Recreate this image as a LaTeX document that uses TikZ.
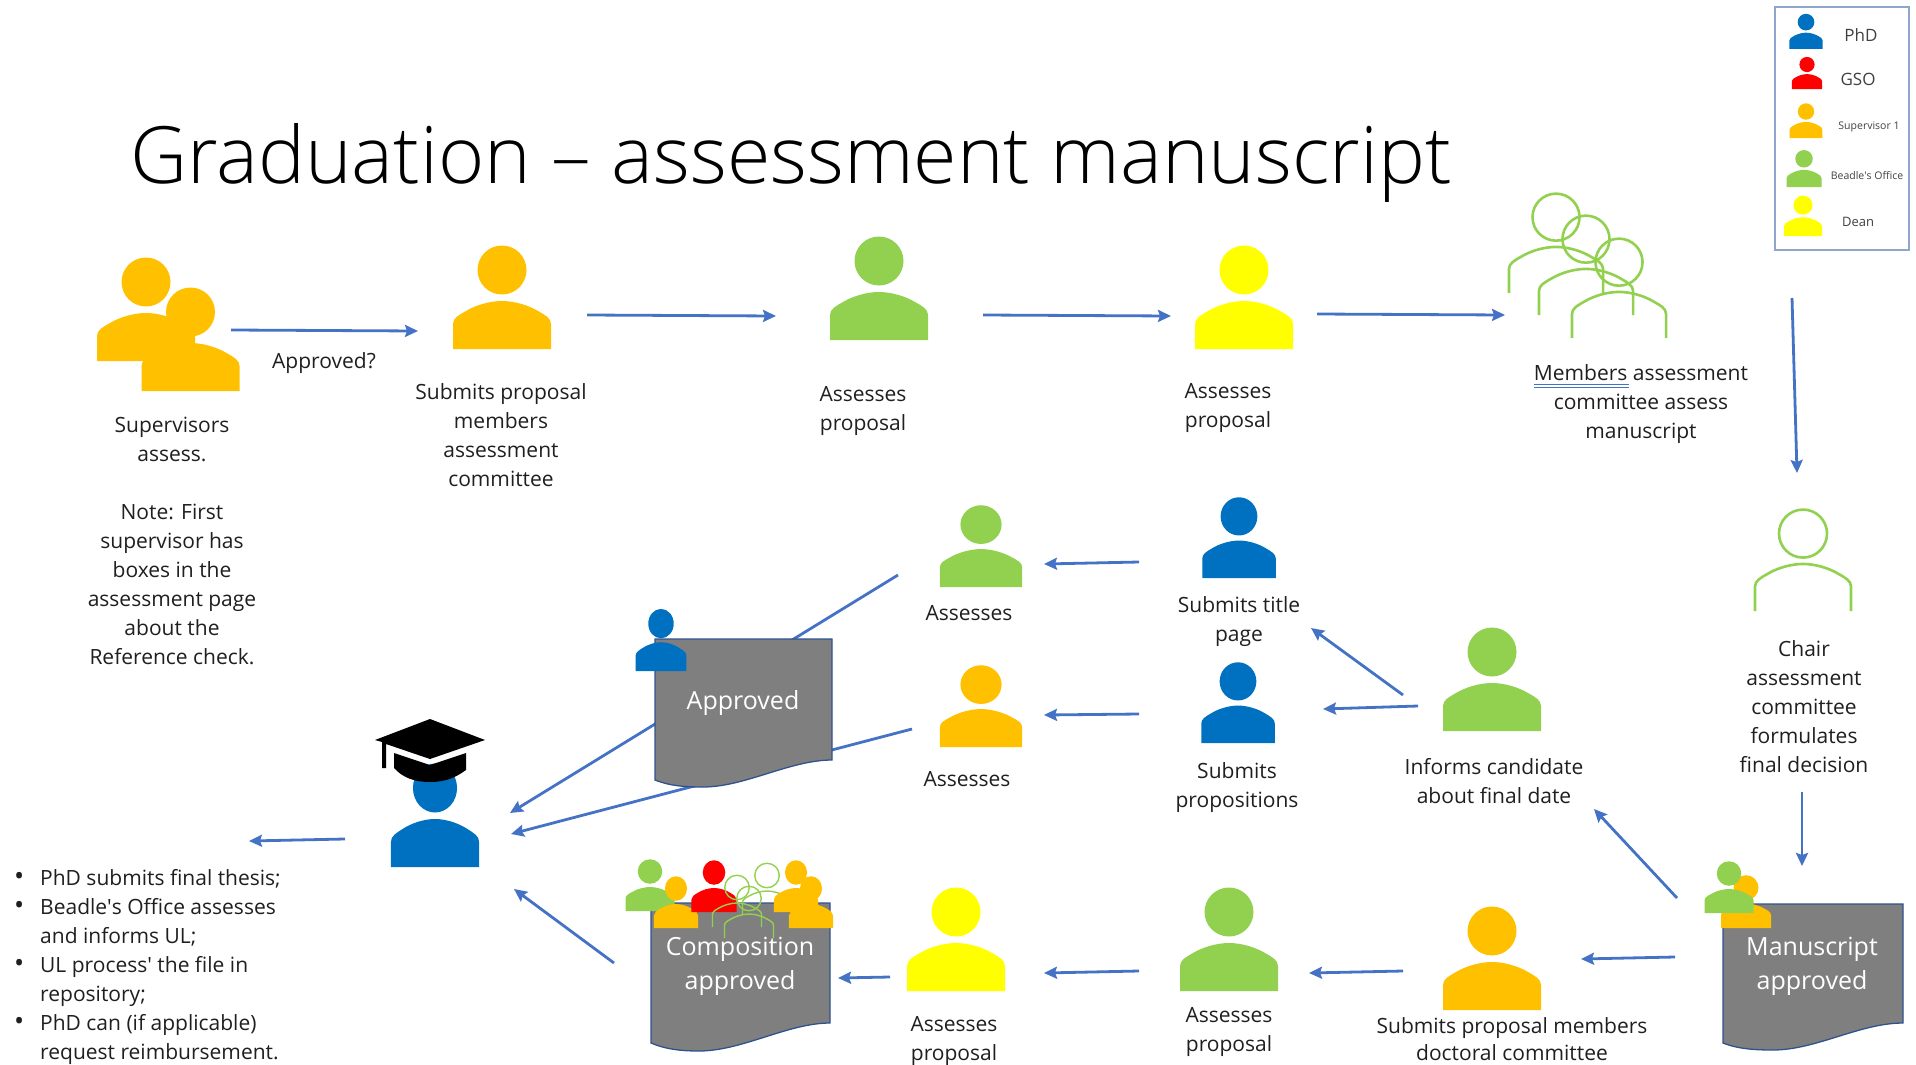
\documentclass[tikz,border=0pt]{standalone}
\usepackage{fontspec}
\setmainfont{Open Sans}
\newfontfamily\titlefont{Open Sans Light}
\usetikzlibrary{arrows.meta}
\definecolor{phdblue}{HTML}{0070C0}
\definecolor{gsored}{HTML}{FF0000}
\definecolor{supervisor}{HTML}{FFC000}
\definecolor{beadle}{HTML}{92D050}
\definecolor{dean}{HTML}{FFFF00}
\definecolor{arrowblue}{HTML}{4472C4}
\definecolor{docgray}{HTML}{7F7F7F}
\definecolor{docedge}{HTML}{2F528F}
\definecolor{legendedge}{HTML}{8FA5CC}
\newcommand{\listbullet}{\makebox[0pt][r]{{\fontsize{27}{29}\selectfont\textbullet}\hspace{16pt}}}
\begin{document}
\begin{tikzpicture}[
    x=1pt, y=-1pt,
    arrow/.style={-{Stealth[length=13pt, width=12pt, inset=2pt]}, line width=2.8pt, arrowblue},
    label/.style={align=center, font=\fontsize{21}{29}\selectfont, text=black!88, inner sep=0pt},
    doctext/.style={align=center, font=\fontsize{25}{34}\selectfont, text=white, inner sep=0pt},
    legendtext/.style={font=\fontsize{17}{18}\selectfont, text=black!75, inner sep=0pt},
    doc/.style={draw=docedge, fill=docgray, line width=1.3pt},
    pics/person/.style={code={
        \fill[#1] (0,-79) circle (24.5);
        \fill[#1] (-49,0) -- (-49,-25) .. controls (-49,-31) and (-43,-34) .. (-36,-38)
            .. controls (-26,-44) and (-12,-48) .. (0,-48)
            .. controls (12,-48) and (26,-44) .. (36,-38)
            .. controls (43,-34) and (49,-31) .. (49,-25) -- (49,0) -- cycle;
    }},
    pics/member/.style={code={
        \draw[beadle, line width=#1] (0,-79) circle (24.5);
        \draw[beadle, line width=#1] (-49,0) -- (-49,-25) .. controls (-49,-31) and (-43,-34) .. (-36,-38)
            .. controls (-26,-44) and (-12,-48) .. (0,-48)
            .. controls (12,-48) and (26,-44) .. (36,-38)
            .. controls (43,-34) and (49,-31) .. (49,-25) -- (49,0);
    }}
]
\useasboundingbox (0,0) rectangle (1916,1065);

% Title
\node[inner sep=0pt, font=\fontsize{79}{84}\selectfont\titlefont, text=black] (title) at (791,163) {Graduation – assessment manuscript};

% Legend
\node[draw=legendedge, line width=1.5pt, minimum width=134pt, minimum height=243pt, inner sep=0pt] (legend) at (1842,128.5) {};
\pic (legend-phd) [scale=.34] at (1806,49) {person=phdblue};
\pic (legend-gso) [scale=.31] at (1807,89) {person=gsored};
\pic (legend-sup) [scale=.335] at (1806,138) {person=supervisor};
\pic (legend-bea) [scale=.357] at (1804,187) {person=beadle};
\pic (legend-dea) [scale=.39] at (1803,236) {person=dean};
\node[legendtext] (legend-phd-text) at (1861,35) {PhD};
\node[legendtext] (legend-gso-text) at (1858,79) {GSO};
\node[legendtext, font=\fontsize{10.5}{12}\selectfont] (legend-sup-text) at (1869,127) {Supervisor 1};
\node[legendtext, font=\fontsize{10.5}{12}\selectfont] (legend-bea-text) at (1867,176) {Beadle\textquotesingle s Office};
\node[legendtext, font=\fontsize{13}{14}\selectfont] (legend-dea-text) at (1858,222) {Dean};

% Top row
\pic (sup1) at (146,361) {person=supervisor};
\pic (sup2) at (190.5,391) {person=supervisor};
\pic (sub-members) at (502,349) {person=supervisor};
\pic (bea-top) at (879,340) {person=beadle};
\pic (dean-top) at (1244,349) {person=dean};
\pic (mem1) [scale=.96] at (1556,293) {member=2.6pt};
\pic (mem2) [scale=.96] at (1586,315) {member=2.6pt};
\pic (mem3) [scale=.96] at (1619,338) {member=2.6pt};
\pic (chair) [scale=.98] at (1803,611) {member=2.6pt};

\node[label, anchor=north] (sup-text) at (172,417) {Supervisors\\assess.\\[29pt]Note: First\\supervisor has\\boxes in the\\assessment page\\about the\\Reference check.};
\node[label] (approved-q) at (324,363) {Approved?};
\node[label, anchor=north] (sub-text) at (501,383) {Submits proposal\\members\\assessment\\committee};
\node[label, anchor=north] (bea-top-text) at (863,386) {Assesses\\proposal};
\node[label, anchor=north] (dean-top-text) at (1228,383) {Assesses\\proposal};
\node[label, anchor=north] (mem-text) at (1641,364) {Members assessment\\committee assess\\manuscript};
\draw[arrowblue, line width=.9pt] (1534,384) -- (1629,384) (1534,387) -- (1629,387);
\node[label, anchor=north] (chair-text) at (1804,640) {Chair\\assessment\\committee\\formulates\\final decision};

% Middle rows
\pic (bea-mid) [xscale=.84, yscale=.79] at (981,587) {person=beadle};
\pic (phd-title) [xscale=.75, yscale=.78] at (1239,578) {person=phdblue};
\pic (sup-mid) [xscale=.84, yscale=.79] at (981,747) {person=supervisor};
\pic (phd-prop) [xscale=.75, yscale=.78] at (1238,743) {person=phdblue};
\pic (bea-date) at (1492,731) {person=beadle};
\node[label] (bea-mid-text) at (969,613) {Assesses};
\node[label] (sup-mid-text) at (967,779) {Assesses};
\node[label, anchor=north] (title-text) at (1239,596) {Submits title\\page};
\node[label, anchor=north] (prop-text) at (1237,762) {Submits\\propositions};
\node[label, anchor=north] (date-text) at (1494,758) {Informs candidate\\about final date};

% Bottom row
\pic (dean-low) at (956,991) {person=dean};
\pic (bea-low) at (1229,991) {person=beadle};
\pic (sup-low) at (1492,1010) {person=supervisor};
\node[label, anchor=north] (dean-low-text) at (954,1016) {Assesses\\proposal};
\node[label, anchor=north] (bea-low-text) at (1229,1007) {Assesses\\proposal};
\node[label, anchor=north, font=\fontsize{21}{27}\selectfont] (sup-low-text) at (1512,1017) {Submits proposal members\\doctoral committee};

% Arrow ends
\coordinate (sup-out) at (231,330);
\coordinate (sub-in) at (418,331);
\coordinate (sub-out) at (587,315);
\coordinate (bea-top-in) at (776,316);
\coordinate (bea-top-out) at (983,315);
\coordinate (dean-top-in) at (1171,316);
\coordinate (dean-top-out) at (1317,314);
\coordinate (mem-in) at (1505,315);
\coordinate (mem-out) at (1792,298);
\coordinate (chair-in) at (1797,473);
\coordinate (chair-out) at (1802,792);
\coordinate (man-in) at (1802,866);
\coordinate (man-out-a) at (1677,898);
\coordinate (date-in) at (1594,809);
\coordinate (man-out-b) at (1675,957);
\coordinate (sup-low-in) at (1581,959);
\coordinate (sup-low-out) at (1403,971);
\coordinate (bea-low-in) at (1309,973);
\coordinate (bea-low-out) at (1139,971);
\coordinate (dean-low-in) at (1044,973);
\coordinate (dean-low-out) at (890,977);
\coordinate (comp-in) at (838,978);
\coordinate (comp-out) at (614,963);
\coordinate (phd-in-c) at (514,889);
\coordinate (date-out-a) at (1403,695);
\coordinate (title-in) at (1311,628);
\coordinate (date-out-b) at (1418,706);
\coordinate (prop-in) at (1323,709);
\coordinate (title-out) at (1139,562);
\coordinate (bea-mid-in) at (1044,564);
\coordinate (prop-out) at (1139,714);
\coordinate (sup-mid-in) at (1044,715);
\coordinate (bea-mid-out) at (898,575);
\coordinate (phd-in-a) at (510,813);
\coordinate (sup-mid-out) at (912,729);
\coordinate (phd-in-b) at (511,834);
\coordinate (phd-out) at (345,839);
\coordinate (list-in) at (249,841);

% Arrows
\draw[arrow] (sup-out) -- (sub-in);
\draw[arrow] (sub-out) -- (bea-top-in);
\draw[arrow] (bea-top-out) -- (dean-top-in);
\draw[arrow] (dean-top-out) -- (mem-in);
\draw[arrow] (mem-out) -- (chair-in);
\draw[arrow] (chair-out) -- (man-in);
\draw[arrow] (man-out-a) -- (date-in);
\draw[arrow] (man-out-b) -- (sup-low-in);
\draw[arrow] (sup-low-out) -- (bea-low-in);
\draw[arrow] (bea-low-out) -- (dean-low-in);
\draw[arrow] (dean-low-out) -- (comp-in);
\draw[arrow] (comp-out) -- (phd-in-c);
\draw[arrow] (date-out-a) -- (title-in);
\draw[arrow] (date-out-b) -- (prop-in);
\draw[arrow] (title-out) -- (bea-mid-in);
\draw[arrow] (prop-out) -- (sup-mid-in);
\draw[arrow] (bea-mid-out) -- (phd-in-a);
\draw[arrow] (sup-mid-out) -- (phd-in-b);
\draw[arrow] (phd-out) -- (list-in);

% Approved documents
\draw[doc] (655,639) -- (832,639) -- (832,760) .. controls (790,760) and (745,787) .. (703,787) .. controls (685,787) and (670,786) .. (655,780) -- cycle;
\draw[doc] (651,903) -- (830,903) -- (830,1023) .. controls (788,1023) and (742,1051) .. (699,1051) .. controls (680,1051) and (665,1049) .. (651,1043) -- cycle;
\draw[doc] (1723,904) -- (1903,904) -- (1903,1023) .. controls (1860,1023) and (1816,1050) .. (1773,1050) .. controls (1755,1050) and (1738,1049) .. (1723,1043) -- cycle;
\node[doctext] (approved-text) at (743,702.5) {Approved};
\node[doctext, anchor=north] (comp-text) at (740,937) {Composition\\approved};
\node[doctext, anchor=north] (man-text) at (1812,937) {Manuscript\\approved};

% Icons on the documents
\pic (doc-phd) [xscale=.52, yscale=.6] at (661,671) {person=phdblue};
\pic (man-sup) [scale=.51] at (1746,928) {person=supervisor};
\pic (man-bea) [scale=.5] at (1729,913) {person=beadle};
\pic (comp-bea) [scale=.5] at (650,911) {person=beadle};
\pic (comp-sup1) [xscale=.45, yscale=.5] at (676,928) {person=supervisor};
\pic (comp-gso) [xscale=.46, yscale=.5] at (714,912) {person=gsored};
\pic (comp-mem1) [scale=.5] at (737,927) {member=1.4pt};
\pic (comp-mem2) [scale=.5] at (749,938) {member=1.4pt};
\pic (comp-mem3) [scale=.5] at (767,915) {member=1.4pt};
\pic (comp-sup2) [xscale=.45, yscale=.5] at (796,912) {person=supervisor};
\pic (comp-sup3) [xscale=.45, yscale=.5] at (811,928) {person=supervisor};

% Graduate
\pic (phd-grad) [xscale=.9] at (435,867) {person=phdblue};
\fill[black] (430,719) -- (485,740) -- (430,759) -- (386,744) -- (386,768) -- (382,768) -- (382,742) -- (375,740) -- cycle;
\fill[black] (394,753) -- (430,765) -- (466,753) -- (466,770) .. controls (455,778) and (445,782) .. (430,782) .. controls (415,782) and (403,778) .. (394,768) -- cycle;

% Final steps
\node[label, align=left, anchor=north west] (list-text) at (40,869) {\listbullet PhD submits final thesis;\\\listbullet Beadle\textquotesingle s Office assesses\\and informs UL;\\\listbullet UL process\textquotesingle{} the file in\\repository;\\\listbullet PhD can (if applicable)\\request reimbursement.};

\end{tikzpicture}
\end{document}
